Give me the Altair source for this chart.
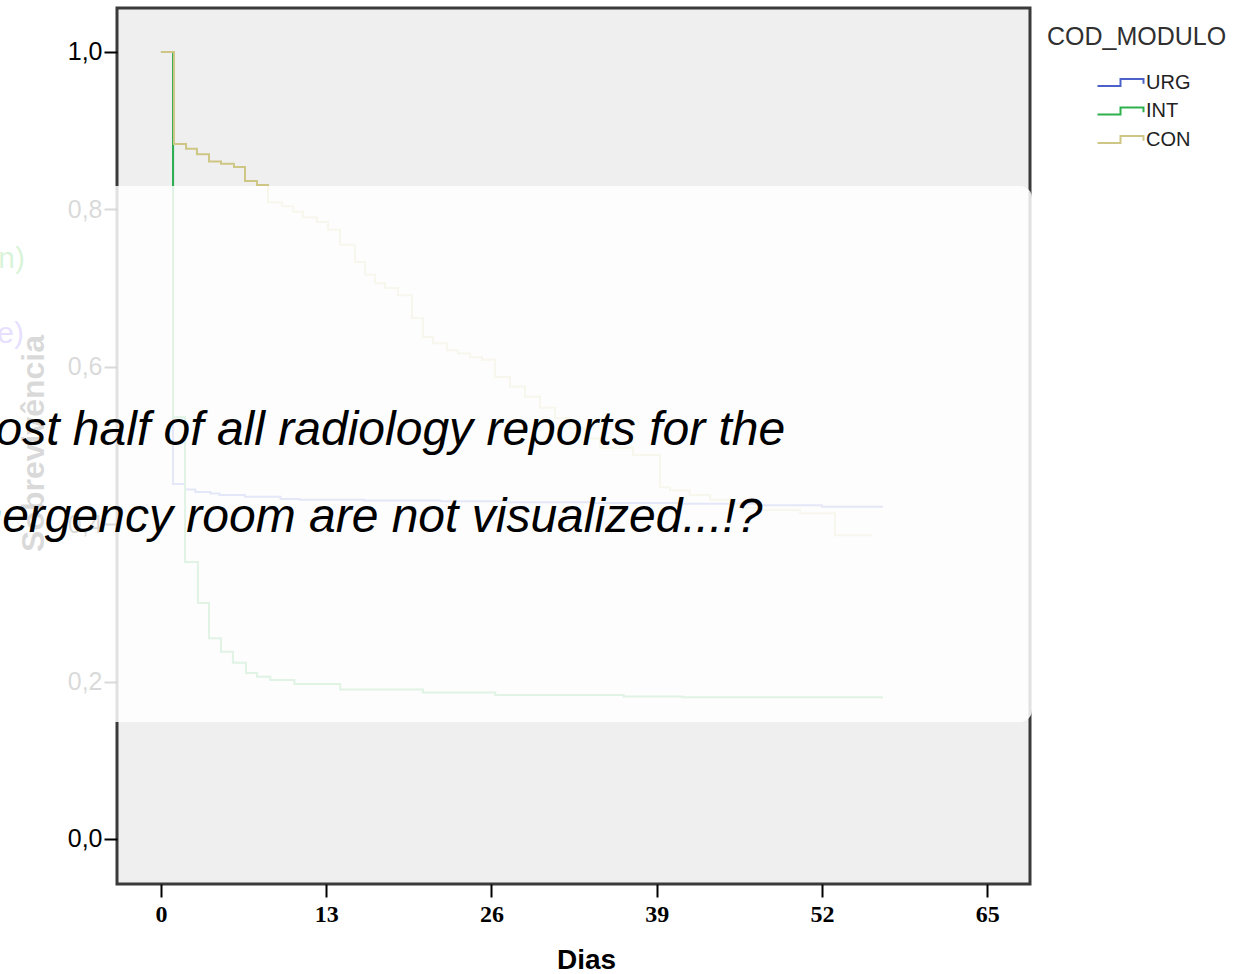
import altair as alt
import pandas as pd

# Kaplan-Meier step points (day, cumulative survival) per module
urg_dias = [0, 0.95, 1.9, 2.7, 3.9, 4.6, 6.6, 9.4, 10.9, 16, 22, 27, 34, 41, 47, 52, 56.8]
urg_sobrev = [1.0, 0.451, 0.444, 0.441, 0.439, 0.437, 0.435, 0.432, 0.431, 0.430,
              0.429, 0.428, 0.427, 0.426, 0.424, 0.422, 0.422]

int_dias = [0, 0.95, 1.89, 2.91, 3.78, 4.72, 5.66, 6.69, 7.55, 8.6, 10.5, 14.1,
            20.6, 26.3, 36.4, 41.0, 56.8]
int_sobrev = [1.0, 0.536, 0.352, 0.300, 0.255, 0.238, 0.224, 0.211, 0.206, 0.202,
              0.197, 0.190, 0.186, 0.183, 0.181, 0.180, 0.180]

con_dias = [0, 1.02, 1.97, 2.83, 3.78, 4.72, 5.74, 6.61, 7.55, 8.42, 9.52, 10.39,
            11.17, 12.27, 13.14, 14.08, 15.26, 16.05, 16.84, 17.62, 18.65, 19.75,
            20.61, 21.40, 22.50, 23.37, 24.31, 25.26, 26.28, 27.46, 28.64, 29.82,
            31.0, 32.18, 33.36, 34.54, 37.14, 39.26, 40.05, 41.6, 43.2, 44.8, 45.9,
            47.13, 50.27, 53.03, 55.94]
con_sobrev = [1.0, 0.883, 0.877, 0.870, 0.861, 0.858, 0.854, 0.836, 0.831, 0.809,
              0.804, 0.797, 0.790, 0.784, 0.774, 0.755, 0.733, 0.717, 0.706, 0.700,
              0.691, 0.662, 0.638, 0.630, 0.621, 0.617, 0.612, 0.609, 0.587, 0.575,
              0.562, 0.548, 0.535, 0.522, 0.509, 0.497, 0.488, 0.447, 0.443, 0.437,
              0.431, 0.425, 0.421, 0.418, 0.414, 0.386, 0.386]

modulos = ["URG", "INT", "CON"]
cores = ["#4b60c8", "#2fb04f", "#cdc684"]
x_ticks = [0, 13, 26, 39, 52, 65]
y_ticks = [0.0, 0.2, 0.4, 0.6, 0.8, 1.0]

note_lines = ["Almost half of all radiology reports for the",
              "emergency room are not visualized...!?"]

rows = []
for mod, dias, sob in [("URG", urg_dias, urg_sobrev),
                       ("INT", int_dias, int_sobrev),
                       ("CON", con_dias, con_sobrev)]:
    for d, s in zip(dias, sob):
        rows.append({"COD_MODULO": mod, "Dias": d, "Sobrevivencia": s})
df = pd.DataFrame(rows)

W, H = 913, 876

# wide step glyph for the legend: path runs past the unit square so the
# entry height stays small while the drawn symbol is ~46 px wide
step_glyph = "M-2,0.3L0,0.3L0,-0.3L2,-0.3L2,0.1"

base = alt.Chart(df).encode(
    x=alt.X("Dias:Q",
            scale=alt.Scale(domain=[-3.46, 68.37], nice=False, zero=False),
            axis=alt.Axis(title="Dias", values=x_ticks, grid=False, domain=False,
                          tickSize=13, tickWidth=2, tickColor="#000",
                          labelFont="Liberation Serif", labelFontSize=24,
                          labelFontWeight="bold",
                          labelColor="#000", labelPadding=5,
                          titleFont="Liberation Sans", titleFontSize=28,
                          titleFontWeight="bold",
                          titleColor="#000", titleX=469, titleY=84,
                          titleBaseline="alphabetic")),
    y=alt.Y("Sobrevivencia:Q",
            scale=alt.Scale(domain=[-0.0572, 1.0559], nice=False, zero=False),
            axis=alt.Axis(title="Sobrevivência", values=y_ticks, grid=False,
                          domain=False, tickSize=13, tickWidth=2, tickColor="#000",
                          labelExpr="replace(format(datum.value, '.1f'), '.', ',')",
                          labelFont="Liberation Sans", labelFontSize=25,
                          labelColor="#000", labelPadding=2,
                          titleFont="Liberation Sans", titleFontSize=32,
                          titleFontWeight="bold", titleColor="#000",
                          titleX=-74, titleY=435, titleAngle=270,
                          titleAlign="center", titleBaseline="alphabetic",
                          zindex=0)),
    color=alt.Color("COD_MODULO:N",
                    scale=alt.Scale(domain=modulos, range=cores),
                    legend=alt.Legend(title=None, orient="none", legendX=991,
                                      legendY=62, padding=0,
                                      symbolType=step_glyph,
                                      symbolSize=529, symbolStrokeWidth=2,
                                      labelFont="Liberation Sans", labelFontSize=20,
                                      labelColor="#222", labelOffset=13,
                                      rowPadding=5.5)),
)

# one layer per module so CON is drawn on top of INT and URG
lines = [
    base.transform_filter(alt.datum.COD_MODULO == m)
        .mark_line(interpolate="step-after", strokeWidth=2)
    for m in modulos
]

one = pd.DataFrame({"k": [0]})

# colour notes partly outside the left edge, under the white panel
side_notes = alt.layer(
    alt.Chart(one).mark_text(text="(green)", align="right", baseline="alphabetic",
                             font="Liberation Sans", fontSize=30, color="#00b000")
       .encode(x=alt.value(-92), y=alt.value(260)),
    alt.Chart(one).mark_text(text="(blue)", align="right", baseline="alphabetic",
                             font="Liberation Sans", fontSize=30, color="#5a2cff")
       .encode(x=alt.value(-93), y=alt.value(335)),
)

panel = alt.Chart(one).mark_rect(fill="white", opacity=0.85, cornerRadius=12).encode(
    x=alt.value(-300), x2=alt.value(915), y=alt.value(178), y2=alt.value(714)
)

note = alt.layer(*[
    alt.Chart(one).mark_text(text=t, align="center", baseline="alphabetic",
                             font="Liberation Sans", fontStyle="italic",
                             fontSize=48, color="#000")
       .encode(x=alt.value(232), y=alt.value(y))
    for t, y in zip(note_lines, [437, 524])
])

legend_title = alt.Chart(one).mark_text(
    text="COD_MODULO", align="left", baseline="alphabetic",
    font="Liberation Sans", fontSize=25, color="#303030"
).encode(x=alt.value(930), y=alt.value(37))

chart = alt.layer(*lines, side_notes, panel, note, legend_title).properties(
    width=W, height=H,
    autosize=alt.AutoSizeParams(type="none"),
    padding={"left": 117, "top": 8, "right": 223, "bottom": 90},
    background="white",
).configure_view(
    fill="#efefef", stroke="#3a3a3a", strokeWidth=3
)

chart.save("out.html", embed_options={"renderer": "svg", "actions": False})
